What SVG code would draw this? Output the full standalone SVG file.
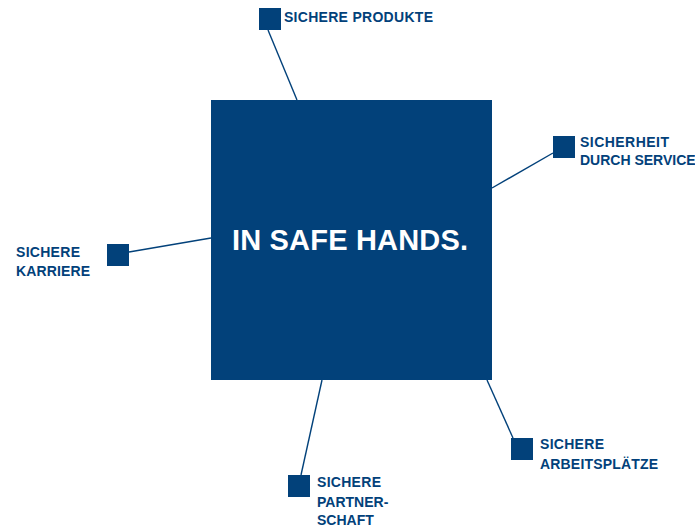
<svg xmlns="http://www.w3.org/2000/svg" width="695" height="527" viewBox="0 0 695 527">
<style>
.sq{fill:#02417a}
.ln{stroke:#02417a;stroke-width:1.4;fill:none}
.lb{font-family:"Liberation Sans",Arial,sans-serif;font-weight:bold;font-size:14px;fill:#02417a}
.main{font-family:"Liberation Sans",Arial,sans-serif;font-weight:bold;font-size:29px;fill:#ffffff}
</style>
<rect width="695" height="527" fill="#ffffff"/>
<g id="connectors">
<line class="ln" x1="268" y1="30" x2="297" y2="100"/>
<line class="ln" x1="553" y1="153" x2="492" y2="188"/>
<line class="ln" x1="129" y1="252" x2="211" y2="238"/>
<line class="ln" x1="322" y1="380" x2="301" y2="475"/>
<line class="ln" x1="487" y1="380" x2="513" y2="438"/>
</g>
<g id="center">
<rect class="sq" x="211" y="100" width="281" height="280"/>
<text class="main" x="232" y="250" textLength="236">IN SAFE HANDS.</text>
</g>
<g id="produkte">
<rect class="sq" x="259" y="8" width="22" height="22"/>
<text class="lb" x="284" y="22" textLength="149">SICHERE PRODUKTE</text>
</g>
<g id="service">
<rect class="sq" x="553" y="136" width="22" height="22"/>
<text class="lb" x="580" y="147" textLength="89">SICHERHEIT</text>
<text class="lb" x="580" y="165">DURCH SERVICE</text>
</g>
<g id="karriere">
<rect class="sq" x="107" y="244" width="22" height="22"/>
<text class="lb" x="16" y="257" textLength="64">SICHERE</text>
<text class="lb" x="16" y="276" textLength="74">KARRIERE</text>
</g>
<g id="partnerschaft">
<rect class="sq" x="288" y="475" width="22" height="22"/>
<text class="lb" x="317" y="487" textLength="64">SICHERE</text>
<text class="lb" x="317" y="507">PARTNER-</text>
<text class="lb" x="317" y="525">SCHAFT</text>
</g>
<g id="arbeitsplaetze">
<rect class="sq" x="511" y="438" width="22" height="22"/>
<text class="lb" x="540" y="449" textLength="64">SICHERE</text>
<text class="lb" x="540" y="469" textLength="118">ARBEITSPLÄTZE</text>
</g>
</svg>
